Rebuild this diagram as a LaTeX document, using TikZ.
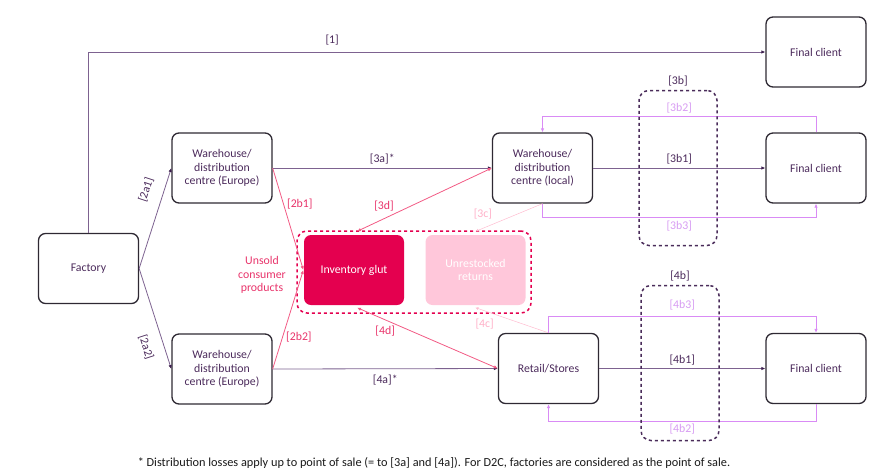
\documentclass[tikz,border=0pt]{standalone}
\usepackage{fontspec}
\setmainfont{Carlito}
\usetikzlibrary{arrows.meta}

\definecolor{boxC}{HTML}{2E2933}
\definecolor{textC}{HTML}{4B2A5B}
\definecolor{lineC}{HTML}{7D6290}
\definecolor{tipC}{HTML}{3C1F4E}
\definecolor{glutC}{HTML}{E4004F}
\definecolor{redC}{HTML}{F25A84}
\definecolor{redT}{HTML}{E8336A}
\definecolor{retC}{HTML}{FFC7DA}
\definecolor{pinkC}{HTML}{FFBCD0}
\definecolor{pinkT}{HTML}{FFB0C8}
\definecolor{loopC}{HTML}{D98BF5}
\definecolor{loopT}{HTML}{D79CF2}
\definecolor{dashC}{HTML}{4A2C5A}

\begin{document}
\begin{tikzpicture}[x=1pt,y=-1pt]
		\newcommand{\boxWidth}{100pt}
		\newcommand{\boxHeight}{70pt}
		\newcommand{\boxFont}{\fontsize{11.8}{13.5}\selectfont}
		
		\tikzset{
			box/.style={draw=boxC, line width=1.3pt, rounded corners=7pt, minimum width=\boxWidth, minimum height=\boxHeight, align=center, text=textC, font=\boxFont},
			glutbox/.style={box, draw=none, fill=glutC, text=white},
			retbox/.style={box, draw=none, fill=retC, text=white},
			flow/.style={draw=lineC, line width=0.8pt, -{Latex[length=4pt,width=3.5pt,color=tipC]}},
			redflow/.style={draw=redC, line width=0.8pt, {Latex[length=4pt,width=3.5pt]}-{Latex[length=4pt,width=3.5pt]}},
			pinkflow/.style={draw=pinkC, line width=0.5pt, -{Latex[length=3pt,width=3pt]}},
			loopflow/.style={draw=loopC, line width=0.8pt, -{Latex[length=4pt,width=3.5pt]}},
			lbl/.style={text=textC, font=\boxFont},
			redlbl/.style={text=redT, font=\boxFont},
			pinklbl/.style={text=pinkT, font=\boxFont},
			looplbl/.style={text=loopT, font=\boxFont},
			zone/.style={draw=dashC, dashed, line width=1.5pt, rounded corners=10pt, minimum width=78pt, minimum height=155pt},
		}
		
		\useasboundingbox (0,0) rectangle (869,475);	% page
		
		% boxes
		\node[box] (factory) at (88.5,268.5) {Factory};
		\node[box] (whtop) at (222,168) {Warehouse/\\distribution\\centre (Europe)};
		\node[box] (whbot) at (222,369) {Warehouse/\\distribution\\centre (Europe)};
		\node[box] (whloc) at (542.5,168) {Warehouse/\\distribution\\centre (local)};
		\node[box] (retail) at (548.5,368.5) {Retail/Stores};
		\node[box] (fc1) at (816,52) {Final client};
		\node[box] (fc2) at (816,168) {Final client};
		\node[box] (fc3) at (816,368.5) {Final client};
		
		% losses
		\node[draw=glutC, dashed, line width=1.5pt, rounded corners=10pt, minimum width=234pt, minimum height=82pt] (pool) at (414,272) {};
		\node[glutbox] (glut) at (354,270) {Inventory glut};
		\node[retbox] (returns) at (475.5,270) {Unrestocked\\returns};
		\node[redlbl, align=center] (unsold) at (262,275) {Unsold\\consumer\\products};
		
		% main flows
		\draw[flow] (factory.north) |- node[pos=0.68, above=3pt, lbl] {[1]} (fc1.west);
		\draw[flow] (factory.east) -- node[pos=0.73, rotate=72, anchor=south, outer sep=9pt, lbl] {[2a1]} (whtop.west);
		\draw[flow] (factory.east) -- node[pos=0.73, rotate=-72, anchor=north, outer sep=9pt, lbl] {[2a2]} (whbot.west);
		\draw[flow] (whtop.east) -- node[midway, above, lbl] {[3a]*} (whloc.west);
		\draw[flow] (whbot.east) -- node[midway, below=2pt, lbl] {[4a]*} (retail.west);
		\draw[flow] (whloc.east) -- node[midway, above, lbl] {[3b1]} (fc2.west);
		\draw[flow] (retail.east) -- node[midway, above, lbl] {[4b1]} (fc3.west);
		
		% into the glut
		\draw[redflow, {}-{Latex[length=4pt,width=3.5pt]}] (whtop.east) -- node[pos=0.35, right, redlbl] {[2b1]} (glut.west);
		\draw[redflow, {}-{Latex[length=4pt,width=3.5pt]}] (whbot.east) -- node[pos=0.32, right, redlbl] {[2b2]} (glut.west);
		\draw[redflow] ([xshift=3pt,yshift=3pt]glut.north) -- node[pos=0.2, above=4pt, redlbl] {[3d]} (whloc.west);
		\draw[redflow] ([xshift=3pt,yshift=-2pt]glut.south) -- node[pos=0.2, below=2pt, redlbl] {[4d]} (retail.west);
		
		% returns
		\draw[pinkflow] (whloc.south) -- node[pos=0.7, above left, pinklbl] {[3c]} ([yshift=3pt]returns.north);
		\draw[pinkflow] (retail.north) -- node[pos=0.7, below left, pinklbl] {[4c]} ([yshift=-2pt]returns.south);
		
		% loops to the final client
		\draw[loopflow] (fc2.north) -- ++(0,-16) -| node[pos=0.25, above, looplbl] {[3b2]} (whloc.north);
		\draw[loopflow] (whloc.south) -- ++(0,14) -| node[pos=0.25, below, looplbl] {[3b3]} (fc2.south);
		\draw[loopflow] (retail.north) -- ++(0,-16) -| node[pos=0.25, above=3pt, looplbl] {[4b3]} (fc3.north);
		\draw[loopflow] (fc3.south) -- ++(0,17) -| node[pos=0.25, below=-1pt, looplbl] {[4b2]} (retail.south);
		
		% last mile zones
		\node[zone, label={[lbl, label distance=0pt]above:[3b]}] (zone3b) at (678,168) {};
		\node[zone, label={[lbl, label distance=0pt]above:[4b]}] (zone4b) at (680,363) {};
		
		\node[text=black!90, font=\fontsize{12.3}{14}\selectfont] (note) at (434,463) {* Distribution losses apply up to point of sale (= to [3a] and [4a]). For D2C, factories are considered as the point of sale.};
\end{tikzpicture}
\end{document}
